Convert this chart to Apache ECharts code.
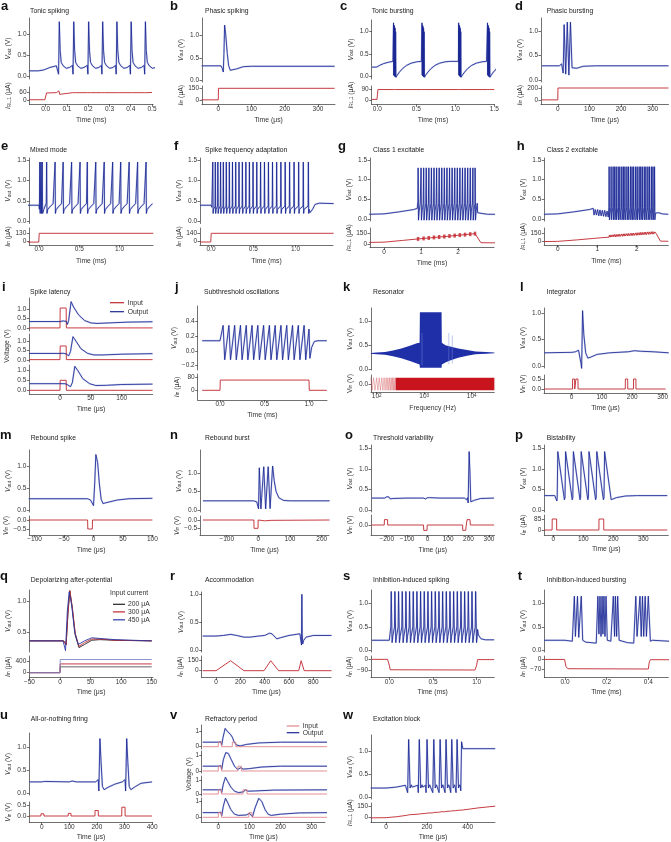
<!DOCTYPE html>
<html lang="en">
<head>
<meta charset="UTF-8">
<title>neuron behaviours</title>
<script src="https://cdn.jsdelivr.net/npm/echarts@6/dist/echarts.min.js"></script>
<style>
  html, body { margin: 0; padding: 0; background: #fff; }
  #main { width: 671px; height: 842px; }
</style>
</head>
<body>
<div id="main"></div>
<script>
var FONT = '"Liberation Sans", Arial, sans-serif';
var BLUE = '#1a2793', HALO = 'rgba(140,152,215,0.4)', RED = '#c0262d', LRED = 'rgba(222,120,125,0.9)';

// ---- a: tonic spiking (ms / V / uA)
var aSpikeT = [0.062, 0.13, 0.2, 0.266, 0.333, 0.4, 0.467];
var aSpike = [[-0.004,0.26],[-0.0015,0.05],[0.002,1.3],[0.006,0.62],[0.011,0.33],[0.02,0.25],[0.035,0.19],[0.05,0.21]];
var aVpre = [[-0.08,0.13],[-0.035,0.13],[-0.01,0.15],[0.02,0.21],[0.05,0.25]];
var aIpre = [[-0.08,2],[-0.004,2],[0.004,55],[0.05,57]];
var aIbump = [[-0.003,57],[0,71],[0.004,44],[0.01,57]];
var aIpost = [[0.5,59]];

// ---- b: phasic spiking (us)
var bV = [[-50,0.32],[8,0.32],[12,0.26],[15,0.18],[17,0.6],[19,1.24],[22,1.05],[27,0.6],[31,0.33],[36,0.22],[42,0.2],[55,0.25],[75,0.3],[100,0.31],[350,0.31]];
var bI = [[-50,2],[0,2],[0.5,150],[350,150]];

// ---- c: tonic bursting (ms)
var cVpre = [[-0.07,0.2],[-0.01,0.2],[0.03,0.24],[0.08,0.28],[0.14,0.31],[0.2,0.33]];
var cBurstT = [0.205, 0.57, 1.04, 1.41];
var cBurst = [[0,0.33],[0.003,1.2],[0.006,0.02],[0.009,1.15],[0.013,0.0],[0.016,1.12],[0.02,-0.01],[0.023,1.08],[0.027,-0.02],[0.03,1.0],[0.034,-0.03],[0.05,0.02],[0.08,0.09],[0.12,0.17],[0.17,0.24],[0.23,0.29],[0.3,0.32],[0.36,0.33]];
var cIpre = [[-0.07,5],[-0.004,5],[0.008,88]];
var cIbump = [[0,88],[0.008,97],[0.016,85],[0.03,88]];
var cIpost = [[1.5,88]];

// ---- d: phasic bursting (us)
var dV = [[-50,0.29],[5,0.29],[12,0.33],[15,0.36],[17,0.14],[20,1.13],[25,0.12],[30,1.18],[35,0.1],[40,1.18],[45,0.25],[50,0.21],[60,0.24],[80,0.28],[120,0.29],[350,0.29]];
var dI = [[-50,2],[0,2],[0.5,205],[350,205]];

// ---- e: mixed mode (ms)
var eVpre = [[-0.15,0.4],[0,0.4],[0.005,0.3],[0.01,1.45],[0.015,0.2],[0.02,0.9],[0.025,1.45],[0.03,0.2],[0.035,1.0],[0.04,1.45],[0.045,0.2],[0.06,0.3],[0.09,0.45]];
var eSpikeT = [0.095,0.2,0.3,0.405,0.51,0.6,0.705,0.81,0.915,1.015,1.12,1.225,1.33];
var eSpike = [[-0.003,0.47],[0,1.45],[0.004,0.2],[0.012,0.29],[0.04,0.36],[0.08,0.44]];
var eI = [[-0.15,-6],[-0.003,-6],[0.003,130],[1.42,130]];

// ---- f: spike frequency adaptation (ms)
var fSpikeT = [0.02,0.05,0.08,0.112,0.145,0.18,0.216,0.253,0.291,0.33,0.37,0.411,0.453,0.496,0.54,0.585,0.631,0.678,0.726,0.775,0.825,0.876,0.928,0.981,1.035,1.09,1.15];
var fSpike = [[-0.002,0.38],[0.001,1.45],[0.005,0.2],[0.01,0.3]];
var fVpre = [[-0.13,0.4],[0,0.4],[0.01,0.35]];
var fVpost = [[1.17,0.22],[1.2,0.3],[1.23,0.42],[1.28,0.45],[1.45,0.44]];
var fI = [[-0.13,-5],[-0.003,-5],[0.003,140],[1.45,140]];

// ---- g: class 1 excitable (ms)
var gVpre = [[-0.4,0.12],[0,0.13],[0.4,0.18],[0.8,0.24],[0.9,0.27]];
var gSpikeT = [0.92,1.0,1.07,1.14,1.21,1.28,1.35,1.42,1.49,1.56,1.63,1.7,1.77,1.84,1.91,1.98,2.05,2.12,2.19,2.26,2.33,2.4,2.46];
var gSpike = [[-0.004,0.45],[0.002,1.3],[0.012,-0.03],[0.03,0.2],[0.06,0.4]];
var gVpost = [[2.53,0.16],[2.58,0.18],[2.65,0.14],[2.8,0.12],[3.0,0.12]];
var gI = [[-0.4,22],[0,26],[0.5,50],[0.9,70],[1.5,98],[2.0,122],[2.46,145],[2.5,140],[2.62,18],[3.0,16]];
var gIdots = [[0.92,71],[1.07,78],[1.21,85],[1.35,92],[1.49,98],[1.63,104],[1.77,111],[1.91,118],[2.05,125],[2.19,131],[2.33,138],[2.46,145]];

// ---- h: class 2 excitable (ms)
var hVpre = [[-0.35,0.12],[0,0.13],[0.4,0.18],[0.8,0.24],[0.9,0.27],[0.92,0.1],[0.95,0.24],[0.98,0.1],[1.01,0.24],[1.04,0.08],[1.07,0.23],[1.1,0.08],[1.13,0.22],[1.16,0.07],[1.19,0.22],[1.22,0.06],[1.25,0.2],[1.28,0.05]];
var hSpikeT = [1.3,1.35,1.4,1.44,1.48,1.53,1.57,1.62,1.66,1.7,1.75,1.79,1.84,1.88,1.92,1.97,2.01,2.06,2.1,2.14,2.19,2.23,2.28,2.32,2.37,2.41,2.45];
var hSpike = [[-0.003,0.3],[0.002,1.33],[0.01,-0.02],[0.025,0.15]];
var hVpost = [[2.5,0.18],[2.55,0.16],[2.65,0.13],[2.8,0.12]];
var hI = [[-0.35,3],[0,6],[0.5,33],[0.9,58],[0.92,92],[0.93,58],[1.0,64],[1.02,96],[1.03,64],[1.1,70],[1.12,100],[1.13,70],[1.2,76],[1.22,104],[1.23,76],
  [1.3,80],[1.31,120],[1.33,82],[1.35,122],[1.37,84],[1.4,125],[1.42,86],[1.44,128],[1.46,88],[1.48,130],[1.5,90],[1.53,133],[1.55,92],[1.57,135],[1.59,95],[1.62,138],[1.64,97],[1.66,140],[1.68,99],[1.7,142],[1.72,101],[1.75,145],[1.77,103],[1.79,147],[1.81,105],[1.84,150],[1.86,108],[1.88,152],[1.9,110],[1.92,155],[1.94,112],[1.97,157],[1.99,114],[2.01,160],[2.03,116],[2.06,162],[2.08,118],[2.1,165],[2.12,120],[2.14,167],[2.16,123],[2.19,170],[2.21,125],[2.23,172],[2.25,127],[2.28,175],[2.3,130],[2.32,176],[2.34,132],[2.37,178],[2.39,134],[2.41,180],[2.43,136],[2.46,175],[2.5,138],[2.6,10],[2.8,8]];

// ---- i: spike latency (us / V), three input amplitudes
var iIn1 = [[-50,0.02],[0,0.02],[0.3,1.05],[10,1.05],[10.3,0.02],[150,0.02]];
var iIn2 = [[-50,0.02],[0,0.02],[0.3,0.75],[10,0.75],[10.3,0.02],[150,0.02]];
var iIn3 = [[-50,0.02],[0,0.02],[0.3,0.52],[10,0.52],[10.3,0.02],[150,0.02]];
var iV1 = [[-50,0.35],[0,0.35],[5,0.38],[10,0.36],[12,0.2],[14,0.4],[18,1.38],[22,1.1],[30,0.7],[40,0.4],[50,0.28],[60,0.25],[80,0.28],[110,0.32],[150,0.34]];
var iV2 = [[-50,0.35],[0,0.35],[5,0.36],[10,0.33],[14,0.22],[17,0.45],[21,1.25],[26,1.0],[34,0.6],[45,0.35],[55,0.27],[70,0.27],[100,0.31],[150,0.34]];
var iV3 = [[-50,0.35],[0,0.35],[8,0.35],[12,0.3],[17,0.2],[20,0.4],[24,1.22],[29,1.0],[37,0.6],[48,0.35],[58,0.26],[75,0.27],[100,0.31],[150,0.33]];

// ---- j: subthreshold oscillations (ms)
var jVpre = [[-0.2,0.14],[0,0.14]];
var jPeakT = [0.035,0.1,0.165,0.23,0.295,0.36,0.425,0.49,0.555,0.62,0.685,0.75,0.815,0.88,0.945];
var jCycle = [[0,0.35],[0.018,-0.12]];
var jVpost = [[1.0,0.3],[1.01,-0.1],[1.03,0.05],[1.06,0.13],[1.1,0.14],[1.2,0.14]];
var jI = [[-0.2,0],[0,0],[0.003,65],[1.0,65],[1.003,0],[1.2,0]];

// ---- k: resonator (Hz / V)
var kFreq = [75,100,150,220,330,500,700,800,812,2320,2350,2800,3500,5200,8000,12000,20000,30000];
var kUp   = [0.34,0.35,0.36,0.39,0.43,0.49,0.54,0.55,1.18,1.18,0.55,0.5,0.47,0.43,0.4,0.37,0.36,0.35];
var kLow  = [0.32,0.31,0.30,0.27,0.23,0.17,0.12,0.1,0.03,0.03,0.1,0.14,0.18,0.24,0.28,0.31,0.32,0.33];
var kSpur = [[900,0.08],[900,0.75],[900,'-'],[3300,0.1],[3300,0.75],[3300,'-'],[3900,0.12],[3900,0.7]];
var kInBandF = [250, 30000];
var kInBandUp = [0.9, 0.9];
var kInBandLow = [-0.9, -0.9];
var kInSparse = [[75,0.9],[80,-0.9],[86,0.9],[92,-0.9],[100,0.9],[106,-0.9],[113,0.9],[120,-0.9],[128,0.9],[135,-0.9],[143,0.9],[150,-0.9],[158,0.9],[165,-0.9],[172,0.9],[180,-0.9],[187,0.9],[195,-0.9],[202,0.9],[210,-0.9],[217,0.9],[225,-0.9],[232,0.9],[240,-0.9],[250,0.9]];

// ---- l: integrator (us)
var lV = [[-90,0.25],[0,0.26],[10,0.27],[20,0.3],[25,0.33],[28,0.05],[30,-0.05],[33,1.05],[37,0.6],[43,0.25],[50,0.15],[60,0.17],[80,0.22],[120,0.25],[180,0.27],[200,0.29],[220,0.28],[260,0.27],[310,0.25]];
var lIn = [[-90,0],[3,0],[3.3,0.5],[10,0.5],[10.3,0],[14,0],[14.3,0.5],[21,0.5],[21.3,0],[177,0],[177.3,0.5],[185,0.5],[185.3,0],[204,0],[204.3,0.5],[212,0.5],[212.3,0],[310,0]];

// ---- m: rebound spike (us)
var mV = [[-110,0.26],[-10,0.26],[-5,0.23],[-2,0.2],[0,0.1],[2,0.6],[4,1.28],[7,1.1],[10,0.6],[13,0.25],[16,0.15],[25,0.18],[40,0.23],[60,0.26],[100,0.27]];
var mIn = [[-110,0],[-10,0],[-9.7,-0.5],[-2,-0.5],[-1.7,0],[100,0]];

// ---- n: rebound burst (us)
var nV = [[-175,0.25],[-15,0.25],[-5,0.22],[-1,0.18],[0.5,0.03],[3,1.15],[8,0.03],[17,1.18],[23,0.03],[31,1.18],[37,0.04],[45,1.2],[50,0.8],[56,0.5],[65,0.33],[80,0.26],[100,0.25],[225,0.25]];
var nIn = [[-175,0],[-14,0],[-13.7,-0.5],[-1,-0.5],[-0.7,0],[20,-0.05],[40,-0.02],[225,0]];

// ---- o: threshold variability (us)
var oV = [[-275,0.29],[-210,0.29],[-200,0.32],[-190,0.32],[-183,0.27],[-170,0.28],[-100,0.29],[-20,0.29],[-10,0.27],[0,0.3],[10,0.3],[60,0.29],[180,0.29],[190,0.25],[195,0.3],[198,0.17],[203,1.42],[207,0.9],[211,0.2],[218,0.18],[230,0.24],[260,0.28],[325,0.29]];
var oIn = [[-275,0],[-212,0],[-211,0.4],[-196,0.4],[-195,0],[-20,0],[-19,-0.4],[-3,-0.4],[-2,0],[171,0],[172,-0.4],[186,-0.4],[189,0],[193,0.4],[207,0.4],[209,0],[325,0]];

// ---- p: bistability (us)
var pVpre = [[-30,0.35],[5,0.35],[10,0.35],[12,0.22]];
var pSpikeT = [15,41,67,93,119,145,171];
var pSpike = [[-2,0.3],[0,1.42],[22,0.25]];
var pVpost = [[195,0.27],[210,0.3],[240,0.34],[280,0.35],[380,0.35]];
var pIn = [[-30,0],[-4,0],[-3.7,85],[11,85],[11.3,0],[152,0],[152.3,85],[168,85],[168.3,0],[380,0]];

// ---- q: depolarizing after-potential (us), three input currents
var qV200 = [[-50,0.36],[6,0.36],[10,0.3],[13,0.8],[16,1.18],[20,0.9],[25,0.45],[31,0.25],[40,0.3],[52,0.37],[65,0.38],[90,0.37],[150,0.36]];
var qV300 = [[-50,0.36],[6,0.36],[10,0.29],[13,0.82],[16,1.18],[20,0.92],[25,0.48],[31,0.27],[40,0.33],[52,0.39],[65,0.39],[90,0.37],[150,0.36]];
var qV450 = [[-50,0.36],[5,0.36],[9,0.2],[12,0.85],[15,1.16],[19,0.95],[24,0.5],[30,0.3],[40,0.36],[52,0.41],[65,0.4],[90,0.38],[150,0.36]];
var qI200 = [[-50,0],[0,0],[0.3,200],[150,200]];
var qI300 = [[-50,0],[0,0],[0.3,300],[150,300]];
var qI450 = [[-50,0],[0,0],[0.3,450],[150,450]];

// ---- r: accommodation (us)
var rV = [[-110,0.26],[0,0.26],[60,0.27],[120,0.29],[170,0.27],[230,0.24],[280,0.24],[350,0.26],[400,0.27],[440,0.31],[460,0.3],[500,0.21],[530,0.23],[600,0.27],[690,0.3],[700,0.33],[703,0.1],[706,1.0],[709,0.3],[713,0.12],[720,0.18],[740,0.24],[800,0.27],[950,0.27]];
var rI = [[-110,0],[0,0],[120,140],[230,0],[395,0],[450,140],[515,0],[680,0],[700,140],[725,0],[950,0]];

// ---- s: inhibition-induced spiking (ms)
var sVpre = [[-0.2,0.22],[0,0.22],[0.01,0.2]];
var sSpikeT = [0.02,0.062,0.104,0.146,0.188,0.23,0.272,0.314,0.356,0.398,0.44,0.482,0.524,0.566,0.608,0.65,0.692,0.734,0.776,0.818,0.86,0.902,0.944,0.986];
var sSpike = [[-0.003,0.5],[0.002,1.25],[0.012,0.17],[0.02,0.3]];
var sVpost = [[1.01,0.45],[1.02,0.33],[1.05,0.25],[1.1,0.23],[1.2,0.23]];
var sI = [[-0.2,-3],[-0.02,-3],[0,-50],[0.01,-88],[0.98,-90],[1.0,-50],[1.01,-5],[1.2,-5]];

// ---- t: inhibition-induced bursting (ms)
var tV = [[-0.1,0.22],[0,0.22],[0.035,0.2],[0.045,1.15],[0.05,0.3],[0.06,1.15],[0.066,0.28],[0.078,1.15],[0.085,0.22],[0.1,0.18],[0.15,0.16],
  [0.152,0.15],[0.158,1.15],[0.163,0.35],[0.168,1.15],[0.173,0.3],[0.178,1.15],[0.182,0.35],[0.187,1.15],[0.192,0.3],[0.197,1.15],[0.203,0.22],[0.22,0.2],
  [0.228,0.2],[0.232,1.15],[0.238,0.3],[0.242,1.15],[0.248,0.3],[0.253,1.15],[0.26,0.22],[0.3,0.17],[0.33,0.16],
  [0.335,0.17],[0.34,1.15],[0.346,0.3],[0.36,1.15],[0.366,0.3],[0.372,1.15],[0.378,0.3],[0.385,1.15],[0.391,0.3],[0.4,1.15],[0.41,0.2],[0.42,0.22],[0.5,0.2]];
var tI = [[-0.1,-3],[-0.002,-3],[0.005,-55],[0.015,-68],[0.4,-70],[0.405,-20],[0.41,-5],[0.5,-5]];

// ---- u: all-or-nothing firing (us)
var uV = [[-45,0.25],[0,0.25],[10,0.26],[100,0.25],[110,0.27],[125,0.25],[195,0.25],[205,0.3],[207,0.05],[211,1.2],[215,0.7],[220,0.15],[226,0.08],[240,0.13],[265,0.2],[292,0.25],[302,0.3],[304,0.05],[308,1.2],[312,0.7],[317,0.15],[323,0.08],[340,0.15],[360,0.22],[400,0.25]];
var uIn = [[-45,0],[-3,0],[-2.7,0.1],[8,0.1],[8.3,0],[96,0],[96.3,0.12],[106,0.12],[106.3,0],[193,0],[193.3,0.25],[205,0.25],[205.3,0],[290,0],[290.3,0.4],[302,0.4],[302.3,0],[400,0]];

// ---- v: refractory period (us), four pulse spacings
var vIn1 = [[-50,0],[0,0],[0.3,0.3],[10,0.3],[10.3,0],[45,0],[45.3,0.3],[56,0.3],[56.3,0],[350,0]];
var vIn2 = [[-50,0],[0,0],[0.3,0.3],[10,0.3],[10.3,0],[63,0],[63.3,0.3],[74,0.3],[74.3,0],[350,0]];
var vIn3 = [[-50,0],[0,0],[0.3,0.3],[10,0.3],[10.3,0],[79,0],[79.3,0.3],[92,0.3],[92.3,0],[350,0]];
var vIn4 = [[-50,0],[0,0],[0.3,0.3],[10,0.3],[10.3,0],[98,0],[98.3,0.3],[108,0.3],[108.3,0],[350,0]];
var vV1 = [[-50,0.3],[0,0.3],[8,0.33],[11,0.1],[15,0.6],[22,1.22],[30,1.0],[40,0.8],[46,0.6],[50,0.35],[58,0.12],[70,0.05],[90,0.15],[130,0.25],[200,0.3],[350,0.3]];
var vV2 = [[-50,0.3],[0,0.3],[8,0.33],[11,0.1],[16,0.7],[24,1.15],[32,1.1],[42,0.7],[52,0.3],[62,0.1],[68,0.15],[72,0.2],[80,0.12],[100,0.15],[140,0.25],[200,0.3],[350,0.3]];
var vV3 = [[-50,0.3],[0,0.3],[8,0.33],[11,0.1],[16,0.7],[23,1.2],[30,0.9],[40,0.5],[52,0.2],[65,0.1],[80,0.15],[88,0.3],[95,0.2],[120,0.22],[180,0.28],[350,0.3]];
var vV4 = [[-50,0.3],[0,0.3],[8,0.33],[11,0.1],[16,0.7],[23,1.22],[30,0.95],[40,0.5],[52,0.2],[65,0.12],[90,0.15],[100,0.25],[105,0.3],[110,0.05],[118,0.6],[130,1.22],[140,1.0],[150,0.5],[160,0.2],[170,0.12],[200,0.2],[260,0.28],[350,0.3]];

// ---- w: excitation block (us)
var wVpre = [[-75,0.2],[0,0.2],[50,0.22],[95,0.26]];
var wSpikeT = [106,158,196,229,260,289,317,343];
var wSpike = [[-2,0.26],[0,0.1],[5,1.25],[12,0.2],[18,0.27],[22,0.22]];
var wVpost = [[366,0.14],[370,1.2],[376,1.05],[535,1.05]];
var wI = [[-75,-2],[0,0],[50,12],[100,30],[104,30],[106,50],[109,20],[115,38],[156,45],[158,65],[161,38],[168,50],[194,55],[196,75],[199,48],[206,60],[227,62],[229,82],[232,56],[239,68],[258,70],[260,90],[263,64],[270,76],[287,77],[289,97],[292,70],[299,82],[315,84],[317,104],[320,78],[327,89],[341,90],[343,110],[346,84],[353,95],[368,97],[370,115],[373,92],[380,100],[450,125],[535,148]];

// ---------------------------------------------------------------
function train(times, shape) {
  var out = [];
  times.forEach(function (t) { shape.forEach(function (s) { out.push([t + s[0], s[1]]); }); });
  return out;
}

var grids = [], xAxes = [], yAxes = [], series = [], graphic = [];
var ROWY = [[6.5,10.8],[146.5,150],[287,292.5],[435,438.5],[576,580],[715,719.5]];
var NAMES = {
  Vout: '{i|V}{s|out} (V)', Iin: '{i|I}{s|in} (\u03bcA)', IRL: '{i|I}{s|RL,1} (\u03bcA)',
  Vin: '{i|V}{s|in} (V)', VinR: 'V{s|in} (V)'
};
var RICH = {
  i: { fontStyle: 'italic', fontSize: 6.8, fontFamily: FONT, color: '#333' },
  s: { fontSize: 4.8, fontFamily: FONT, color: '#333', verticalAlign: 'bottom', lineHeight: 6 }
};

function lim(a, lo, hi, log) {
  var f = log ? Math.log10 : function (v) { return v; };
  var v0 = f(a[0]), v1 = f(a[2]);
  var s = (a[3] - a[1]) / (v1 - v0);
  var mn = v0 + (lo - a[1]) / s, mx = v0 + (hi - a[1]) / s;
  return log ? [Math.pow(10, mn), Math.pow(10, mx)] : [mn, mx];
}
function fmt(v, d) {
  return (d ? v.toFixed(d) : String(Math.round(v))).replace('-', '\u2212');
}
function axisStyle(ticks, d, log, margin) {
  return {
    axisLine: { show: true, onZero: false, lineStyle: { color: '#333', width: 0.7 } },
    axisTick: { show: true, length: 2.5, customValues: ticks, lineStyle: { color: '#333', width: 0.7 } },
    axisLabel: {
      show: true, customValues: ticks, fontSize: 6.5, color: '#333', fontFamily: FONT, margin: margin,
      formatter: log ? function (v) { return '10{p|' + Math.round(Math.log10(v)) + '}'; } : function (v) { return fmt(v, d); },
      rich: { p: { fontSize: 4.6, fontFamily: FONT, color: '#333', verticalAlign: 'top', lineHeight: 5 } }
    },
    splitLine: { show: false }
  };
}
function addSeries(sr, gi) {
  var base = { xAxisIndex: gi, yAxisIndex: gi, silent: true, animation: false };
  if (sr.k === 'b') {
    series.push(Object.assign({ type: 'line', data: sr.d, showSymbol: false, z: 2, lineStyle: { color: HALO, width: 1.8 } }, base));
    series.push(Object.assign({ type: 'line', data: sr.d, showSymbol: false, z: 3, lineStyle: { color: BLUE, width: 0.85 } }, base));
  } else if (sr.k === 'line') {
    series.push(Object.assign({ type: 'line', data: sr.d, showSymbol: false, z: sr.z || 3, lineStyle: { color: sr.c, width: sr.w || 0.9 } }, base));
  } else if (sr.k === 'dots') {
    series.push(Object.assign({ type: 'scatter', data: sr.d, symbol: 'rect', symbolSize: [2.5, 4], z: 4, itemStyle: { color: sr.c } }, base));
  } else if (sr.k === 'poly') {
    series.push(Object.assign({
      type: 'custom', data: [[sr.f[0], sr.up[0]]], z: 3,
      renderItem: function (params, api) {
        var pts = [], i;
        for (i = 0; i < sr.f.length; i++) pts.push(api.coord([sr.f[i], sr.up[i]]));
        for (i = sr.f.length - 1; i >= 0; i--) pts.push(api.coord([sr.f[i], sr.low[i]]));
        return { type: 'polygon', shape: { points: pts }, style: { fill: sr.c } };
      }
    }, base));
  }
}
function B(d) { return { k: 'b', d: d }; }
function R(d) { return { k: 'line', d: d, c: RED }; }

function addPanel(p) {
  var ry = ROWY[p.row];
  graphic.push({ type: 'text', x: p.lx, y: ry[0], style: { text: p.letter, font: 'bold 13px ' + FONT, fill: '#111', textVerticalAlign: 'middle' } });
  graphic.push({ type: 'text', x: p.tx, y: ry[1], style: { text: p.title, font: '6.8px ' + FONT, fill: '#222', textVerticalAlign: 'middle' } });
  var xl = lim(p.xa, p.L, p.R, p.log);
  p.subs.forEach(function (s, i) {
    var gi = grids.length, last = i === p.subs.length - 1;
    grids.push({ left: p.L, top: s.top, width: p.R - p.L, height: s.bot - s.top });
    var yl = lim(s.ya, s.bot, s.top, false);
    xAxes.push(Object.assign({
      gridIndex: gi, type: p.log ? 'log' : 'value', min: xl[0], max: xl[1], show: last,
      name: last ? p.xn : '', nameLocation: 'middle', nameGap: p.xg || 11.5,
      nameTextStyle: { fontSize: 6.8, color: '#333', fontFamily: FONT }
    }, p.log ? { logBase: 10 } : {}, axisStyle(p.xt, p.xd, p.log, 1)));
    yAxes.push(Object.assign({
      gridIndex: gi, type: 'value', min: yl[0], max: yl[1],
      name: s.yn ? NAMES[s.yn] : '', nameLocation: 'middle', nameRotate: 90, nameGap: p.yg || 17.5,
      nameTextStyle: { fontSize: 6.8, color: '#333', fontFamily: FONT, rich: RICH }
    }, axisStyle(s.yt, s.yd, false, p.ym || 3)));
    s.s.forEach(function (sr) { addSeries(sr, gi); });
  });
}

var aV = aVpre.concat(train(aSpikeT, aSpike));
var aI = aIpre.concat(train(aSpikeT, aIbump), aIpost);
var cV = cVpre.concat(train(cBurstT, cBurst));
var cI = cIpre.concat(train(cBurstT, cIbump), cIpost);
var eV = eVpre.concat(train(eSpikeT, eSpike));
var fV = fVpre.concat(train(fSpikeT, fSpike), fVpost);
var gV = gVpre.concat(train(gSpikeT, gSpike), gVpost);
var hV = hVpre.concat(train(hSpikeT, hSpike), hVpost);
var jV = jVpre.concat(train(jPeakT, jCycle), jVpost);
var pV = pVpre.concat(train(pSpikeT, pSpike), pVpost);
var sV = sVpre.concat(train(sSpikeT, sSpike), sVpost);
var wV = wVpre.concat(train(wSpikeT, wSpike), wVpost);

var V1 = [0, 0.5, 1], V15 = [0, 0.5, 1, 1.5];
var panels = [
  { letter: 'a', lx: 1, title: 'Tonic spiking', tx: 30, row: 0, L: 29.5, R: 153, xa: [0, 45.7, 0.5, 152], xt: [0, 0.1, 0.2, 0.3, 0.4, 0.5], xd: 1, xn: 'Time (ms)', xg: 12,
    subs: [{ top: 18, bot: 79, ya: [0, 76.3, 1, 34.3], yt: V1, yd: 1, yn: 'Vout', s: [B(aV)] },
           { top: 87, bot: 104.3, ya: [0, 100, 60, 92.3], yt: [0, 60], yd: 0, yn: 'IRL', s: [R(aI)] }] },
  { letter: 'b', lx: 170, title: 'Phasic spiking', tx: 205, row: 0, L: 202, R: 335, xa: [0, 218.3, 300, 318], xt: [0, 100, 200, 300], xd: 0, xn: 'Time (\u03bcs)', xg: 12,
    subs: [{ top: 18, bot: 82, ya: [0, 80, 1, 35.7], yt: V1, yd: 1, yn: 'Vout', s: [B(bV)] },
           { top: 86, bot: 104.3, ya: [0, 100, 150, 88.3], yt: [0, 150], yd: 0, yn: 'Iin', s: [R(bI)] }] },
  { letter: 'c', lx: 340, title: 'Tonic bursting', tx: 371.7, row: 0, L: 371.7, R: 494.3, xa: [0, 377.3, 1.5, 494.3], xt: [0, 0.5, 1, 1.5], xd: 1, xn: 'Time (ms)', xg: 12,
    subs: [{ top: 20, bot: 79, ya: [0, 76, 1, 31.7], yt: V1, yd: 1, yn: 'Vout', s: [B(cV)] },
           { top: 86, bot: 104.3, ya: [0, 100, 90, 89.3], yt: [0, 90], yd: 0, yn: 'IRL', s: [R(cI)] }] },
  { letter: 'd', lx: 515, title: 'Phasic bursting', tx: 546.7, row: 0, L: 541, R: 668.5, xa: [0, 557.8, 300, 652.7], xt: [0, 100, 200, 300], xd: 0, xn: 'Time (\u03bcs)', xg: 12,
    subs: [{ top: 18, bot: 82, ya: [0, 80, 1, 31], yt: V1, yd: 1, yn: 'Vout', s: [B(dV)] },
           { top: 86, bot: 104.3, ya: [0, 100, 200, 88.3], yt: [0, 200], yd: 0, yn: 'Iin', s: [R(dI)] }] },

  { letter: 'e', lx: 1, title: 'Mixed mode', tx: 30, row: 1, L: 29.3, R: 153, xa: [0, 39, 1, 119.5], xt: [0, 0.5, 1], xd: 1, xn: 'Time (ms)', xg: 13,
    subs: [{ top: 158, bot: 223.5, ya: [0, 221.7, 1.5, 160], yt: V15, yd: 1, yn: 'Vout', s: [B(eV)] },
           { top: 228, bot: 245, ya: [0, 241.7, 130, 233.3], yt: [0, 130], yd: 0, yn: 'Iin', s: [R(eI)] }] },
  { letter: 'f', lx: 174, title: 'Spike frequency adaptation', tx: 205, row: 1, L: 200, R: 333, xa: [0, 211, 1, 295.6], xt: [0, 0.5, 1], xd: 1, xn: 'Time (ms)', xg: 13,
    subs: [{ top: 158, bot: 223.5, ya: [0, 221.7, 1.5, 160], yt: V15, yd: 1, yn: 'Vout', s: [B(fV)] },
           { top: 228, bot: 245, ya: [0, 241.7, 140, 233.3], yt: [0, 140], yd: 0, yn: 'Iin', s: [R(fI)] }] },
  { letter: 'g', lx: 338, title: 'Class 1 excitable', tx: 373, row: 1, L: 370, R: 494, xa: [0, 384, 2, 458], xt: [0, 1, 2], xd: 0, xn: 'Time (ms)', xg: 12,
    subs: [{ top: 158, bot: 221, ya: [0, 219, 1.5, 160], yt: V15, yd: 1, yn: 'Vout', s: [B(gV)] },
           { top: 228, bot: 247.5, ya: [0, 244, 150, 233.3], yt: [0, 150], yd: 0, yn: 'IRL', s: [R(gI), { k: 'dots', d: gIdots, c: RED }] }] },
  { letter: 'h', lx: 516.7, title: 'Class 2 excitable', tx: 546.7, row: 1, L: 544.3, R: 668.3, xa: [0, 557.7, 2, 636.7], xt: [0, 1, 2], xd: 0, xn: 'Time (ms)', xg: 13,
    subs: [{ top: 158, bot: 221, ya: [0, 219, 1.5, 160], yt: V15, yd: 1, yn: 'Vout', s: [B(hV)] },
           { top: 228, bot: 245, ya: [0, 241.7, 150, 233.3], yt: [0, 150], yd: 0, yn: 'IRL', s: [R(hI)] }] },

  { letter: 'i', lx: 2, title: 'Spike latency', tx: 30, row: 2, L: 29.3, R: 152.7, xa: [0, 60, 100, 121.7], xt: [0, 50, 100], xd: 0, xn: 'Time (\u03bcs)', xg: 12,
    subs: [{ top: 298, bot: 331, ya: [0, 328.3, 1, 309], yt: V1, yd: 1, s: [R(iIn1), B(iV1)] },
           { top: 334, bot: 362, ya: [0, 360, 1, 341.3], yt: V1, yd: 1, s: [R(iIn2), B(iV2)] },
           { top: 365, bot: 394, ya: [0, 390.7, 1, 370.7], yt: V1, yd: 1, s: [R(iIn3), B(iV3)] }] },
  { letter: 'j', lx: 175, title: 'Subthreshold oscillations', tx: 204, row: 2, L: 197.7, R: 327, xa: [0, 220, 1, 309], xt: [0, 0.5, 1], xd: 1, xn: 'Time (ms)', xg: 12,
    subs: [{ top: 306, bot: 370, ya: [0, 351, 0.4, 321.7], yt: [-0.2, 0, 0.2, 0.4], yd: 1, yn: 'Vout', s: [B(jV)] },
           { top: 374, bot: 400, ya: [0, 390.3, 80, 377.7], yt: [0, 80], yd: 0, yn: 'Iin', s: [R(jI)] }] },
  { letter: 'k', lx: 343, title: 'Resonator', tx: 373, row: 2, L: 371, R: 494.3, log: true, xa: [100, 376.7, 10000, 471.7], xt: [100, 1000, 10000], xd: 0, xn: 'Frequency (Hz)', xg: 13,
    subs: [{ top: 308, bot: 370, ya: [0, 369.3, 1, 321], yt: V1, yd: 1, yn: 'Vout',
             s: [{ k: 'poly', f: kFreq, up: kUp, low: kLow, c: '#1f2fa8' }, { k: 'line', d: kSpur, c: 'rgba(120,135,222,0.6)', w: 0.8 }] },
           { top: 375, bot: 392, ya: [0, 384, 0.9, 377.7], yt: [-0.9, 0, 0.9], yd: 1, yn: 'VinR',
             s: [{ k: 'line', d: kInSparse, c: 'rgba(200,40,45,0.55)', w: 0.6 }, { k: 'poly', f: kInBandF, up: kInBandUp, low: kInBandLow, c: '#c8141c' }] }] },
  { letter: 'l', lx: 520, title: 'Integrator', tx: 546.7, row: 2, L: 544, R: 670, xa: [0, 572.3, 300, 665.6], xt: [0, 100, 200, 300], xd: 0, xn: 'Time (\u03bcs)', xg: 12,
    subs: [{ top: 308, bot: 368, ya: [0, 366, 1, 313.3], yt: V1, yd: 1, yn: 'Vout', s: [B(lV)] },
           { top: 375, bot: 393, ya: [0, 389, 0.5, 379], yt: [0, 0.5], yd: 1, yn: 'Vin', s: [R(lIn)] }] },

  { letter: 'm', lx: 0, title: 'Rebound spike', tx: 30.7, row: 3, L: 29.3, R: 153, xa: [-100, 34.6, 100, 152.4], xt: [-100, -50, 0, 50, 100], xd: 0, xn: 'Time (\u03bcs)', xg: 12,
    subs: [{ top: 450, bot: 512, ya: [0, 510, 1, 466.7], yt: V1, yd: 1, yn: 'Vout', s: [B(mV)] },
           { top: 516, bot: 535, ya: [0, 520, -0.5, 529], yt: [-0.5, 0], yd: 1, yn: 'Vin', s: [R(mIn)] }] },
  { letter: 'n', lx: 170, title: 'Rebound burst', tx: 205, row: 3, L: 200, R: 329, xa: [-100, 226.7, 200, 321.7], xt: [-100, 0, 100, 200], xd: 0, xn: 'Time (\u03bcs)', xg: 12,
    subs: [{ top: 450, bot: 512, ya: [0, 510, 1, 473.3], yt: V1, yd: 1, yn: 'Vout', s: [B(nV)] },
           { top: 516, bot: 535, ya: [0, 520, -0.5, 528.3], yt: [-0.5, 0], yd: 1, yn: 'Vin', s: [R(nIn)] }] },
  { letter: 'o', lx: 345, title: 'Threshold variability', tx: 373, row: 3, L: 371, R: 494.6, xa: [-200, 386.7, 300, 489], xt: [-200, -100, 0, 100, 200, 300], xd: 0, xn: 'Time (\u03bcs)', xg: 12,
    subs: [{ top: 445, bot: 512, ya: [0, 510, 1.5, 448.3], yt: V15, yd: 1, yn: 'Vout', s: [B(oV)] },
           { top: 515, bot: 535, ya: [0, 525, 0.5, 518.3], yt: [-0.5, 0, 0.5], yd: 1, yn: 'Vin', s: [R(oIn)] }] },
  { letter: 'p', lx: 515, title: 'Bistability', tx: 546.7, row: 3, L: 544.3, R: 668.3, xa: [0, 553.3, 300, 643.3], xt: [0, 100, 200, 300], xd: 0, xn: 'Time (\u03bcs)', xg: 11,
    subs: [{ top: 445, bot: 512, ya: [0, 510, 1.5, 448.3], yt: V15, yd: 1, yn: 'Vout', s: [B(pV)] },
           { top: 515, bot: 535, ya: [0, 530, 85, 519], yt: [0, 85], yd: 0, yn: 'Iin', s: [R(pIn)] }] },

  { letter: 'q', lx: 0, title: 'Depolarizing after-potential', tx: 30.7, row: 4, L: 29.3, R: 153, xa: [0, 60, 150, 151.7], xt: [-50, 0, 50, 100, 150], xd: 0, xn: 'Time (\u03bcs)', xg: 11,
    subs: [{ top: 590, bot: 652, ya: [0.5, 632.3, 1, 601.7], yt: [0.5, 1], yd: 1, yn: 'Vout',
             s: [{ k: 'line', d: qV200, c: '#222' }, { k: 'line', d: qV300, c: RED }, { k: 'line', d: qV450, c: '#2a3aa8' }] },
           { top: 656, bot: 677.5, ya: [0, 672.7, 400, 661], yt: [0, 400], yd: 0, yn: 'Iin',
             s: [{ k: 'line', d: qI200, c: '#555' }, { k: 'line', d: qI300, c: RED }, { k: 'line', d: qI450, c: '#7a86c8' }] }] },
  { letter: 'r', lx: 170, title: 'Accommodation', tx: 205, row: 4, L: 201.7, R: 331, xa: [0, 216, 800, 313.3], xt: [0, 200, 400, 600, 800], xd: 0, xn: 'Time (\u03bcs)', xg: 11,
    subs: [{ top: 592, bot: 652, ya: [0, 650.7, 1, 594.3], yt: V1, yd: 1, yn: 'Vout', s: [B(rV)] },
           { top: 656, bot: 677.5, ya: [0, 670.7, 150, 660], yt: [0, 150], yd: 0, yn: 'Iin', s: [R(rI)] }] },
  { letter: 's', lx: 343, title: 'Inhibition-induced spiking', tx: 373, row: 4, L: 371, R: 494.3, xa: [0, 389.3, 1, 476.7], xt: [0, 0.5, 1], xd: 1, xn: 'Time (ms)', xg: 11,
    subs: [{ top: 590, bot: 652, ya: [0, 650.7, 1, 603.3], yt: V1, yd: 1, yn: 'Vout', s: [B(sV)] },
           { top: 656, bot: 677.5, ya: [0, 659, -90, 670], yt: [-90, 0], yd: 0, yn: 'Iin', s: [R(sI)] }] },
  { letter: 't', lx: 517.7, title: 'Inhibition-induced bursting', tx: 546.7, row: 4, L: 544.3, R: 668.3, xa: [0, 565, 0.4, 648.3], xt: [0, 0.2, 0.4], xd: 1, xn: 'Time (ms)', xg: 11,
    subs: [{ top: 590, bot: 652, ya: [0, 650.7, 1, 603.3], yt: V1, yd: 1, yn: 'Vout', s: [B(tV)] },
           { top: 656, bot: 677.5, ya: [0, 659, -70, 669], yt: [-70, 0], yd: 0, yn: 'Iin', s: [R(tI)] }] },

  { letter: 'u', lx: 0, title: 'All-or-nothing firing', tx: 30.7, row: 5, L: 29.3, R: 152.7, xa: [0, 41.7, 100, 69.3], xt: [0, 100, 200, 300, 400], xd: 0, xn: 'Time (\u03bcs)', xg: 11,
    subs: [{ top: 733, bot: 795, ya: [0, 793.3, 1, 747.7], yt: V1, yd: 1, yn: 'Vout', s: [B(uV)] },
           { top: 802, bot: 822.5, ya: [0, 816, 0.5, 805], yt: [0, 0.5], yd: 1, yn: 'Vin', s: [R(uIn)] }] },
  { letter: 'v', lx: 170, title: 'Refractory period', tx: 205, row: 5, L: 201.7, R: 325, xa: [0, 218.3, 300, 311.7], xt: [0, 100, 200, 300], xd: 0, xn: 'Time (\u03bcs)', xg: 11, ym: 2.5,
    subs: [{ top: 725, bot: 749, ya: [0, 746.7, 1, 731.7], yt: [0, 1], yd: 0, s: [B(vV1), { k: 'line', d: vIn1, c: LRED }] },
           { top: 751, bot: 773, ya: [0, 771, 1, 755], yt: [0, 1], yd: 0, s: [B(vV2), { k: 'line', d: vIn2, c: LRED }] },
           { top: 776, bot: 796, ya: [0, 794, 1, 780], yt: [0, 1], yd: 0, s: [B(vV3), { k: 'line', d: vIn3, c: LRED }] },
           { top: 798, bot: 822.5, ya: [0, 817.3, 1, 801.7], yt: [0, 1], yd: 0, s: [B(vV4), { k: 'line', d: vIn4, c: LRED }] }] },
  { letter: 'w', lx: 343, title: 'Excitation block', tx: 373, row: 5, L: 371, R: 495, xa: [0, 386, 400, 467.7], xt: [0, 200, 400], xd: 0, xn: 'Time (\u03bcs)', xg: 11,
    subs: [{ top: 735, bot: 799, ya: [0, 797.3, 1, 751], yt: V1, yd: 1, yn: 'Vout', s: [B(wV)] },
           { top: 803, bot: 822.5, ya: [0, 817.7, 150, 806], yt: [0, 150], yd: 0, yn: 'IRL', s: [R(wI)] }] }
];
panels.forEach(addPanel);

// shared y titles for the stacked panels, and small legends
function txt(x, y, s, rot) {
  graphic.push({ type: 'text', x: x, y: y, rotation: rot || 0,
    style: { text: s, font: '6.8px ' + FONT, fill: '#333', textAlign: rot ? 'center' : 'left', textVerticalAlign: 'middle' } });
}
function key(x1, x2, y, c) {
  graphic.push({ type: 'line', shape: { x1: x1, y1: y, x2: x2, y2: y }, style: { stroke: c, lineWidth: 1.2 } });
}
txt(7, 346, 'Voltage (V)', Math.PI / 2);
txt(189, 774, 'Voltage (V)', Math.PI / 2);
key(110, 124, 302.7, RED); txt(127.7, 302.7, 'Input');
key(110, 124, 311.7, BLUE); txt(127.7, 311.7, 'Output');
txt(110, 593.3, 'Input current');
key(113, 125, 604.3, '#222'); txt(128, 604.3, '200 \u03bcA');
key(113, 125, 611.9, RED); txt(128, 611.9, '300 \u03bcA');
key(113, 125, 619.8, '#2a3aa8'); txt(128, 619.8, '450 \u03bcA');
key(286.7, 299.3, 726, LRED); txt(302.7, 726, 'Input');
key(286.7, 299.3, 732.7, BLUE); txt(302.7, 732.7, 'Output');

var chart = echarts.init(document.getElementById('main'));
chart.setOption({
  animation: false,
  backgroundColor: '#fff',
  grid: grids,
  xAxis: xAxes,
  yAxis: yAxes,
  series: series,
  graphic: graphic
});
</script>
</body>
</html>
